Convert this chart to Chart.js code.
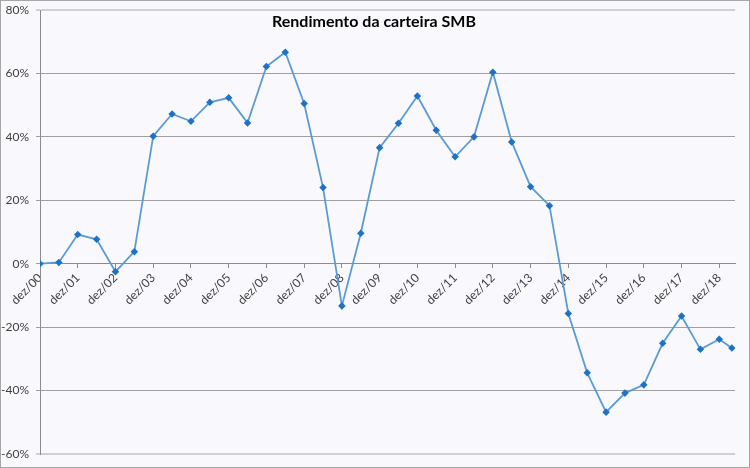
<!DOCTYPE html>
<html>
<head>
<meta charset="utf-8">
<script src="https://cdn.jsdelivr.net/npm/chart.js@4/dist/chart.umd.min.js"></script>
<style>
  html, body { margin: 0; padding: 0; background: #ffffff; }
  #wrap {
    width: 748px;
    height: 466px;
    border: 1px solid #a6a6a6;
    background: #f9f9fd;
  }
</style>
</head>
<body>
<div id="wrap"><canvas id="chart"></canvas></div>
<script>
// Axis labels (one per december) and their positions in months since dez/00
const tickLabels = ['dez/00', 'dez/01', 'dez/02', 'dez/03', 'dez/04', 'dez/05', 'dez/06',
  'dez/07', 'dez/08', 'dez/09', 'dez/10', 'dez/11', 'dez/12', 'dez/13', 'dez/14',
  'dez/15', 'dez/16', 'dez/17', 'dez/18'];
const tickMonths = [0, 12, 24, 36, 48, 60, 72, 84, 96, 108, 120, 132, 144, 156, 168,
  180, 192, 204, 216];

// Observation dates (months since dez/00) and cumulative return of the SMB portfolio (%)
const pointMonths = [0, 6, 12, 18, 24, 30, 36, 42, 48, 54, 60, 66, 72, 78, 84, 90, 96,
  102, 108, 114, 120, 126, 132, 138, 144, 150, 156, 162, 168, 174, 180, 186, 192, 198,
  204, 210, 216, 220];
const smbReturns = [0, 0.4, 9.2, 7.7, -2.5, 3.8, 40.2, 47.2, 44.9, 50.9, 52.3, 44.4,
  62.2, 66.7, 50.5, 24.0, -13.3, 9.6, 36.6, 44.3, 52.9, 42.1, 33.7, 40.0, 60.4, 38.4,
  24.3, 18.3, -15.7, -34.4, -46.8, -40.8, -38.2, -25.1, -16.5, -27.0, -23.8, -26.6];

const chartTitle = 'Rendimento da carteira SMB';
const fontFamily = 'Lato, "Open Sans", sans-serif';

// Title is drawn over the plot area, like the original
const titlePlugin = {
  id: 'overlayTitle',
  afterDraw(chart) {
    const ctx = chart.ctx;
    ctx.save();
    ctx.font = 'bold 16px ' + fontFamily;
    ctx.fillStyle = '#000000';
    ctx.textAlign = 'center';
    ctx.textBaseline = 'middle';
    ctx.fillText(chartTitle, 373, 21);
    ctx.restore();
  }
};

const points = pointMonths.map((m, i) => ({ x: m, y: smbReturns[i] }));

new Chart(document.getElementById('chart'), {
  type: 'line',
  data: {
    datasets: [{
      label: chartTitle,
      data: points,
      borderColor: '#5b9bd5',
      borderWidth: 1.8,
      pointStyle: 'rectRot',
      pointRadius: 2.5,
      pointBackgroundColor: '#1f72c6',
      pointBorderColor: '#1f72c6',
      tension: 0
    }]
  },
  options: {
    responsive: true,
    maintainAspectRatio: false,
    animation: false,
    layout: { padding: { top: 9, right: 14, bottom: 13, left: 0 } },
    plugins: {
      legend: { display: false },
      title: { display: false },
      tooltip: { enabled: false }
    },
    scales: {
      x: {
        type: 'linear',
        position: { y: 0 },
        min: 0,
        max: 221,
        afterBuildTicks(scale) {
          scale.ticks = tickMonths.map(v => ({ value: v }));
        },
        afterFit(scale) {
          // labels hang over the plot, so they should not push the layout around
          scale.paddingLeft = 0;
          scale.paddingRight = 0;
          scale.paddingTop = 0;
          scale.paddingBottom = 0;
        },
        ticks: {
          autoSkip: false,
          minRotation: 45,
          maxRotation: 45,
          padding: 3,
          color: '#404040',
          font: { family: fontFamily, size: 12 },
          callback: (v) => tickLabels[tickMonths.indexOf(v)]
        },
        grid: {
          drawOnChartArea: false,
          drawTicks: true,
          tickLength: 4,
          color: '#8c8c8c'
        },
        border: { display: true, color: '#8c8c8c', width: 1 }
      },
      y: {
        min: -60,
        max: 80,
        afterFit(scale) {
          scale.width = 39;
          scale.paddingTop = 0;
          scale.paddingBottom = 0;
        },
        ticks: {
          stepSize: 20,
          padding: 7,
          color: '#404040',
          font: { family: fontFamily, size: 12 },
          callback: (v) => v + '%'
        },
        grid: {
          color: (c) => (c.tick && (c.tick.value === 80 || c.tick.value === -60)) ? '#d0d0d0' : '#a0a0a0',
          lineWidth: (c) => (c.tick && (c.tick.value === 80 || c.tick.value === -60)) ? 2 : 1,
          tickLength: 4
        },
        border: { display: true, color: '#8c8c8c', width: 1 }
      }
    }
  },
  plugins: [titlePlugin]
});
</script>
</body>
</html>
